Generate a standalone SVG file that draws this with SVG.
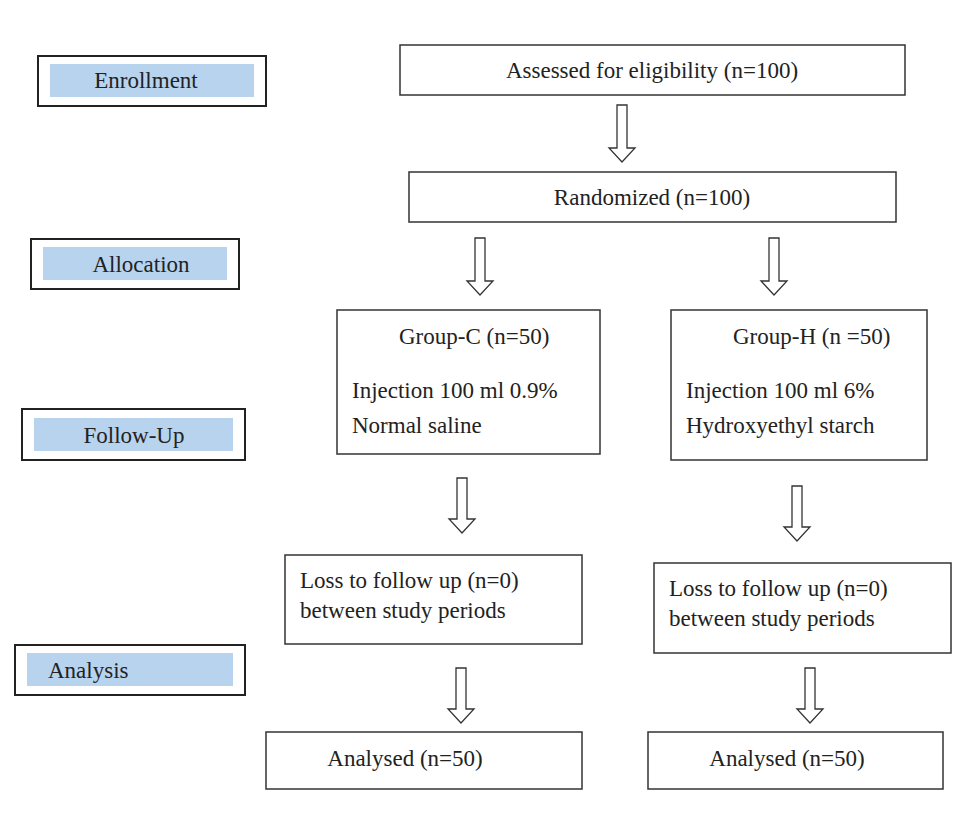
<svg xmlns="http://www.w3.org/2000/svg" width="976" height="814" viewBox="0 0 976 814">
<style>
.b{fill:#fff;stroke:#333;stroke-width:1.5}
.o{fill:#fff;stroke:#222;stroke-width:2}
.i{fill:#b8d3ee}
.a{fill:#fff;stroke:#333;stroke-width:1.3}
text{font-family:"Liberation Serif",serif;font-size:23px;fill:#222}
.c{text-anchor:middle}
</style>
<rect width="976" height="814" fill="#fff"/>
<g id="enrollment"><rect class="o" x="38" y="56" width="228" height="50"/><rect class="i" x="50" y="64" width="204" height="33"/><text class="c" x="146" y="88">Enrollment</text></g>
<g id="allocation"><rect class="o" x="31" y="239" width="208" height="50"/><rect class="i" x="43" y="247" width="184" height="33"/><text class="c" x="141" y="272">Allocation</text></g>
<g id="followup"><rect class="o" x="22" y="409" width="223" height="51"/><rect class="i" x="34" y="418" width="199" height="33"/><text class="c" x="134" y="443">Follow-Up</text></g>
<g id="analysis"><rect class="o" x="15" y="645" width="230" height="50"/><rect class="i" x="27" y="653" width="206" height="33"/><text x="48" y="678">Analysis</text></g>
<g id="assessed"><rect class="b" x="400" y="45" width="505" height="50"/><text class="c" x="652" y="78">Assessed for eligibility (n=100)</text></g>
<g id="randomized"><rect class="b" x="409" y="172" width="487" height="50"/><text class="c" x="652" y="205">Randomized (n=100)</text></g>
<g id="groupc"><rect class="b" x="337" y="310" width="263" height="144"/><text x="399" y="344">Group-C (n=50)</text><text x="352" y="398">Injection 100 ml 0.9%</text><text x="352" y="433">Normal saline</text></g>
<g id="grouph"><rect class="b" x="671" y="310" width="256" height="150"/><text x="733" y="344">Group-H (n =50)</text><text x="686" y="398">Injection 100 ml 6%</text><text x="686" y="433">Hydroxyethyl starch</text></g>
<g id="lossc"><rect class="b" x="285" y="555" width="297" height="89"/><text x="300" y="588">Loss to follow up (n=0)</text><text x="300" y="618">between study periods</text></g>
<g id="lossh"><rect class="b" x="654" y="563" width="297" height="90"/><text x="669" y="596">Loss to follow up (n=0)</text><text x="669" y="626">between study periods</text></g>
<g id="analc"><rect class="b" x="266" y="732" width="316" height="57"/><text class="c" x="405" y="766">Analysed (n=50)</text></g>
<g id="analh"><rect class="b" x="648" y="732" width="295" height="57"/><text class="c" x="787" y="766">Analysed (n=50)</text></g>
<g id="connectors">
<path class="a" d="M617,105h10v43h8l-13,14l-13,-14h8z"/>
<path class="a" d="M475,238h10v43h8l-13,14l-13,-14h8z"/>
<path class="a" d="M769,238h10v43h8l-13,14l-13,-14h8z"/>
<path class="a" d="M457,478h10v41h8l-13,14l-13,-14h8z"/>
<path class="a" d="M792,486h10v41h8l-13,14l-13,-14h8z"/>
<path class="a" d="M456,668h10v41h8l-13,14l-13,-14h8z"/>
<path class="a" d="M805,668h10v41h8l-13,14l-13,-14h8z"/>
</g>
</svg>
